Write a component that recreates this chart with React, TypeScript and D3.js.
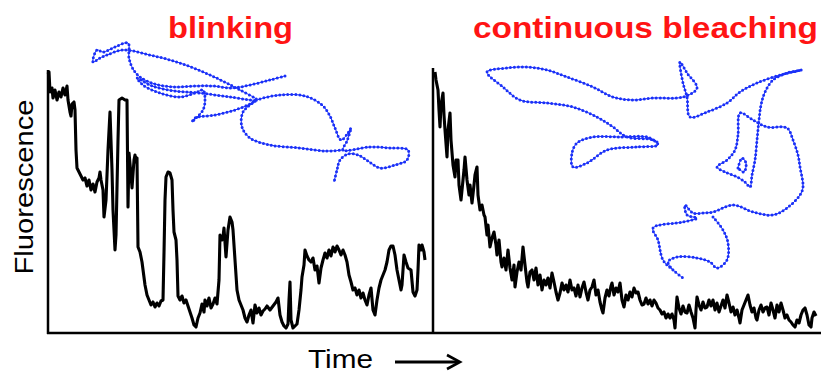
import React from "react";
import * as d3 from "d3";

// ---- Data ----
// Blinking fluorescence trace: [frame, intensity]
const blinkTrace: [number, number][] = [
  [0,259],[1,261],[2,241],[4,245],[5,235],[7,243],[9,233],[11,241],[13,236],[15,245],[17,238],[19,247],[20,233],[22,221],[23,217],[24,229],[26,231],[27,223],[28,183],[29,165],[31,161],[33,157],[35,153],[37,155],[39,147],[41,153],[43,143],[45,149],[47,141],[49,151],[51,155],[52,161],[53,153],[55,143],[56,116],[58,133],[60,183],[62,221],[64,163],[65,123],[67,83],[68,98],[70,193],[71,233],[74,235],[77,233],[79,233],[80,126],[81,180],[83,158],[84,145],[86,173],[87,178],[88,171],[89,175],[90,86],[92,81],[94,71],[97,48],[99,38],[101,33],[103,28],[105,31],[107,26],[109,30],[111,27],[113,32],[115,33],[116,80],[117,133],[118,156],[120,161],[122,160],[124,153],[125,123],[126,101],[128,93],[129,73],[130,37],[132,33],[134,37],[136,30],[138,33],[140,27],[142,21],[144,15],[146,8],[148,6],[150,15],[152,20],[154,29],[156,21],[157,33],[159,27],[161,35],[163,25],[165,29],[167,35],[169,29],[171,53],[172,98],[174,93],[175,96],[176,105],[178,76],[180,103],[182,116],[184,111],[185,103],[187,73],[189,43],[191,33],[193,28],[195,23],[197,15],[199,11],[201,18],[203,23],[205,10],[207,28],[209,20],[211,25],[213,18],[215,22],[217,24],[219,27],[222,23],[225,27],[228,31],[230,35],[232,18],[234,11],[236,7],[238,5],[240,9],[241,33],[242,51],[243,13],[245,5],[247,7],[249,9],[251,23],[253,43],[254,56],[256,68],[257,83],[259,77],[261,73],[263,71],[265,75],[267,63],[269,67],[271,50],[273,65],[275,73],[277,80],[279,75],[281,83],[283,77],[285,86],[287,81],[289,87],[291,83],[293,78],[295,83],[297,78],[299,71],[301,58],[303,51],[305,43],[307,45],[309,38],[311,43],[313,35],[315,40],[317,33],[319,28],[321,38],[323,45],[325,23],[327,18],[329,33],[331,45],[333,53],[335,58],[337,63],[339,71],[341,83],[343,87],[345,87],[347,78],[349,63],[351,53],[353,43],[354,48],[356,78],[358,71],[360,65],[363,63],[365,41],[367,37],[369,43],[370,63],[371,88],[373,83],[374,88],[376,81],[377,73]
];

// Continuous bleaching trace: [frame, intensity]
const bleachTrace: [number, number][] = [
  [2,261],[3,253],[5,243],[6,223],[7,206],[8,228],[10,240],[11,218],[12,203],[14,176],[15,203],[17,220],[18,193],[20,168],[22,156],[23,173],[25,173],[26,148],[28,133],[29,143],[31,163],[32,176],[34,153],[36,138],[37,148],[39,130],[41,148],[42,158],[44,166],[45,138],[47,123],[49,128],[51,118],[52,116],[54,98],[55,108],[57,86],[59,95],[61,101],[63,88],[64,78],[66,93],[68,71],[69,66],[71,75],[73,63],[75,83],[77,65],[79,53],[81,68],[82,46],[84,61],[86,71],[88,63],[90,86],[92,68],[94,51],[95,46],[97,61],[99,63],[101,53],[103,65],[105,48],[107,58],[109,43],[111,53],[113,48],[115,55],[117,45],[119,60],[121,51],[123,41],[125,33],[127,40],[129,50],[131,43],[133,48],[135,41],[137,53],[139,43],[141,45],[143,37],[145,48],[147,36],[149,45],[151,51],[153,41],[155,33],[157,43],[159,46],[161,53],[163,38],[165,43],[167,31],[169,23],[170,20],[172,35],[174,43],[176,37],[178,47],[179,50],[181,38],[183,45],[185,41],[187,50],[189,33],[191,26],[193,38],[195,33],[197,41],[199,36],[201,45],[203,40],[205,41],[207,33],[209,28],[211,29],[213,35],[215,29],[217,33],[219,27],[221,33],[223,30],[225,25],[227,23],[229,19],[231,21],[233,15],[235,19],[237,15],[239,19],[241,13],[242,5],[243,21],[244,36],[246,25],[248,19],[250,27],[252,21],[254,20],[256,28],[258,21],[260,15],[262,5],[263,23],[264,36],[266,28],[268,23],[270,31],[272,25],[274,26],[276,33],[278,27],[280,33],[282,23],[284,30],[286,21],[288,27],[290,33],[292,25],[294,38],[296,30],[298,21],[300,26],[302,18],[304,23],[306,15],[307,10],[309,23],[311,28],[313,33],[315,38],[317,28],[319,21],[321,25],[323,15],[324,13],[326,23],[328,28],[330,21],[332,25],[334,26],[336,18],[338,30],[340,23],[342,15],[344,28],[346,21],[348,30],[350,23],[352,15],[354,18],[356,13],[358,11],[360,8],[362,6],[364,13],[366,10],[368,18],[370,23],[372,25],[374,18],[376,8],[378,6],[379,15],[381,21],[383,17]
];

// Single-particle trajectories (position units), null = break
type P = [number, number] | null;
const blinkTrack: P[] = [
  [237,36],[222,40],[202,45],[184,48],[165,46],[147,46],[127,47],[107,44],[92,37],[85,29],[81,18],[80,3],[67,7],[55,12],[49,10],[45,22],[52,18],[59,15],[75,10],[102,15],[132,23],[162,35],[192,50],[209,60],[182,57],[152,53],[127,51],[104,46],[89,38],[95,45],[112,53],[132,57],[147,53],[155,50],[157,60],[155,70],[148,78],[144,82],[147,78],[167,75],[187,70],[202,64],[209,60],[232,55],[257,56],[274,65],[282,76],[287,88],[293,100],[300,93],[303,88],[299,101],[295,110],[322,107],[342,108],[360,110],[359,120],[347,125],[332,128],[320,121],[310,115],[300,114],[292,120],[289,130],[286,142],
  null,
  [295,110],[277,111],[252,108],[222,105],[202,98],[194,87],[195,72],[209,60]
];

const bleachTrack: P[] = [
  [224,102],[214,97],[187,97],[160,97],[144,103],[139,113],[140,127],[154,123],[174,110],[204,107],[225,105],[220,100],[194,97],[180,87],[164,77],[140,67],[114,63],[87,60],[70,47],[54,32],[74,28],[94,27],[114,30],[134,37],[160,47],[180,57],[200,60],[220,58],[250,57],[264,48],[254,33],[247,22],[250,43],[254,57],[257,77],[274,72],[294,63],[307,52],[324,43],[347,35],[369,30],[354,33],[340,40],[332,52],[328,65],[326,80],[324,100],[322,120],[319,135],[317,147],[312,142],[304,137],[292,132],[284,127],[294,120],[302,110],[305,95],[307,73],[320,80],[334,87],[354,88],[360,100],[365,115],[367,127],[370,147],[367,155],[354,168],[340,175],[320,172],[300,165],[280,172],[270,173],[260,173],[252,165],[254,175],[264,178],[250,182],[220,188],[225,200],[230,220],[240,230],[250,238],
  null,
  [280,177],[290,190],[295,203],[294,220],[284,228],[277,222],[264,218],[244,217],[235,222],[240,230],
  null,
  [305,128],[309,118],[313,123],[311,132],[305,128]
];

const titles = ["blinking", "continuous bleaching"];
const yLabel = "Fluorescence";
const xLabel = "Time";

export default function App() {
  const W = 822, H = 373;
  const xL = d3.scaleLinear().domain([0, 384]).range([48, 432]);
  const xR = d3.scaleLinear().domain([0, 388]).range([433, 821]);
  const yF = d3.scaleLinear().domain([0, 263]).range([333, 70]);
  const posY = d3.scaleLinear().domain([0, 300]).range([40, 340]);

  const traceL = d3.line<[number, number]>().x(d => xL(d[0])).y(d => yF(d[1]));
  const traceR = d3.line<[number, number]>().x(d => xR(d[0])).y(d => yF(d[1]));
  const trackL = d3.line<P>().defined(d => d !== null).x(d => xL((d as any)[0])).y(d => posY((d as any)[1])).curve(d3.curveCatmullRom);
  const trackR = d3.line<P>().defined(d => d !== null).x(d => xR((d as any)[0])).y(d => posY((d as any)[1])).curve(d3.curveCatmullRom);

  const blue = "#1a30f8";
  const red = "#ff1414";

  const trackEl = (d: string | null) => (
    <g>
      <path d={d || ""} fill="none" stroke={blue} strokeWidth={1} />
      <path d={d || ""} fill="none" stroke={blue} strokeWidth={3} strokeLinecap="round" strokeDasharray="0 4" />
    </g>
  );

  return (
    <div style={{ position: "absolute", left: 0, top: 0 }}>
      <svg width={W} height={H} style={{ display: "block", background: "#fff" }}>
        {/* trajectories */}
        {trackEl(trackL(blinkTrack))}
        {trackEl(trackR(bleachTrack))}

        {/* traces */}
        <path d={traceL(blinkTrace) || ""} fill="none" stroke="#000" strokeWidth={3.1} strokeLinejoin="round" />
        <path d={traceR(bleachTrace) || ""} fill="none" stroke="#000" strokeWidth={3.1} strokeLinejoin="round" />

        {/* axes */}
        <line x1={xL(0)} x2={xL(0)} y1={yF(263)} y2={yF(0) + 1} stroke="#000" strokeWidth={2.5} />
        <line x1={xR(0)} x2={xR(0)} y1={yF(263) - 2} y2={yF(0) + 1} stroke="#000" strokeWidth={2.5} />
        <line x1={xL(0) - 1} x2={xR(388)} y1={yF(0)} y2={yF(0)} stroke="#000" strokeWidth={2.5} />

        {/* titles */}
        <text x={168} y={38} fontFamily="Liberation Sans, Arial, sans-serif" fontWeight="bold" fontSize={29} fill={red} textLength={125} lengthAdjust="spacingAndGlyphs">{titles[0]}</text>
        <text x={473} y={38} fontFamily="Liberation Sans, Arial, sans-serif" fontWeight="bold" fontSize={29} fill={red} textLength={345} lengthAdjust="spacingAndGlyphs">{titles[1]}</text>

        {/* y label */}
        <text transform="translate(33,187) rotate(-90)" textAnchor="middle" fontFamily="Liberation Sans, Arial, sans-serif" fontSize={25} fill="#000" textLength={175} lengthAdjust="spacingAndGlyphs">{yLabel}</text>

        {/* x label + arrow */}
        <text x={308} y={368} fontFamily="Liberation Sans, Arial, sans-serif" fontSize={25} fill="#000" textLength={65} lengthAdjust="spacingAndGlyphs">{xLabel}</text>
        <line x1={395} x2={458} y1={362} y2={362} stroke="#000" strokeWidth={3} />
        <path d="M447,355 L460,362 L447,369" fill="none" stroke="#000" strokeWidth={2.6} strokeLinejoin="miter" />
      </svg>
    </div>
  );
}
